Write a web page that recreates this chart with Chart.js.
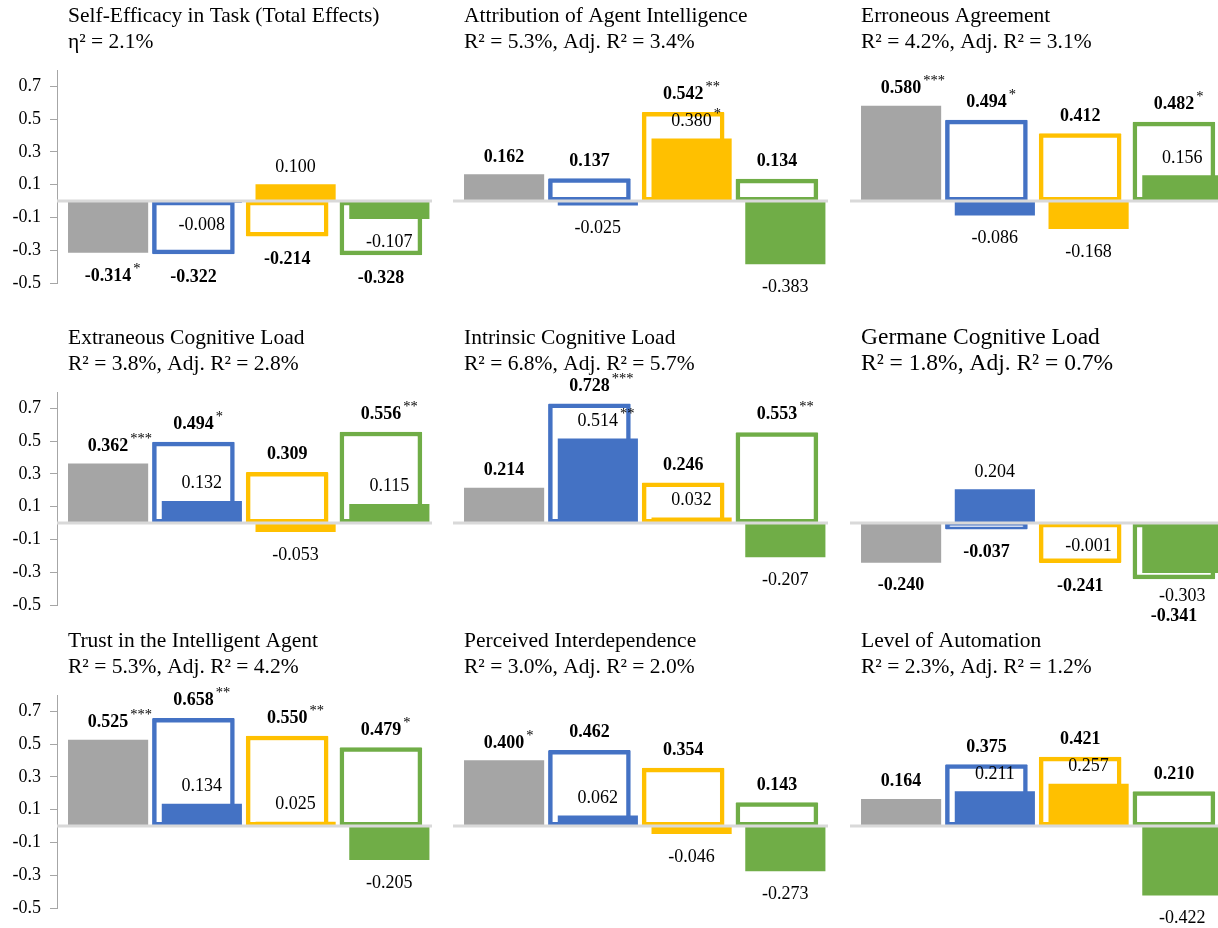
<!DOCTYPE html>
<html>
<head>
<meta charset="utf-8">
<title>Effects by condition</title>
<script src="https://cdn.jsdelivr.net/npm/chart.js@4.4.1/dist/chart.umd.min.js"></script>
<style>
  html, body { margin: 0; padding: 0; background: #fff; }
  #board { position: relative; width: 1218px; height: 928px; overflow: hidden; }
  #board canvas { position: absolute; }
</style>
</head>
<body>
<div id="board"></div>
<script>
// one panel per outcome, read left to right, top to bottom
const panelTitles = [
  'Self-Efficacy in Task (Total Effects)',
  'Attribution of Agent Intelligence',
  'Erroneous Agreement',
  'Extraneous Cognitive Load',
  'Intrinsic Cognitive Load',
  'Germane Cognitive Load',
  'Trust in the Intelligent Agent',
  'Perceived Interdependence',
  'Level of Automation'
];
const panelStats = [
  'η² = 2.1%',
  'R² = 5.3%, Adj. R² = 3.4%',
  'R² = 4.2%, Adj. R² = 3.1%',
  'R² = 3.8%, Adj. R² = 2.8%',
  'R² = 6.8%, Adj. R² = 5.7%',
  'R² = 1.8%, Adj. R² = 0.7%',
  'R² = 5.3%, Adj. R² = 4.2%',
  'R² = 3.0%, Adj. R² = 2.0%',
  'R² = 2.3%, Adj. R² = 1.2%'
];

const conditions = ['Reference', 'Condition 1', 'Condition 2', 'Condition 3'];

// total effects (outlined bars; the first condition is drawn filled)
const totalEffects = [
  [-0.314, -0.322, -0.214, -0.328],
  [0.162, 0.137, 0.542, 0.134],
  [0.580, 0.494, 0.412, 0.482],
  [0.362, 0.494, 0.309, 0.556],
  [0.214, 0.728, 0.246, 0.553],
  [-0.240, -0.037, -0.241, -0.341],
  [0.525, 0.658, 0.550, 0.479],
  [0.400, 0.462, 0.354, 0.143],
  [0.164, 0.375, 0.421, 0.210]
];
// direct effects (filled bars), none for the reference condition
const directEffects = [
  [null, -0.008, 0.100, -0.107],
  [null, -0.025, 0.380, -0.383],
  [null, -0.086, -0.168, 0.156],
  [null, 0.132, -0.053, 0.115],
  [null, 0.514, 0.032, -0.207],
  [null, 0.204, -0.001, -0.303],
  [null, 0.134, 0.025, -0.205],
  [null, 0.062, -0.046, -0.273],
  [null, 0.211, 0.257, -0.422]
];
const totalStars = [
  ['*', '', '', ''],
  ['', '', '**', ''],
  ['***', '*', '', '*'],
  ['***', '*', '', '**'],
  ['', '***', '', '**'],
  ['', '', '', ''],
  ['***', '**', '**', '*'],
  ['*', '', '', ''],
  ['', '', '', '']
];
const directStars = [
  ['', '', '', ''],
  ['', '', '*', ''],
  ['', '', '', ''],
  ['', '', '', ''],
  ['', '**', '', ''],
  ['', '', '', ''],
  ['', '', '', ''],
  ['', '', '', ''],
  ['', '', '', '']
];

const yTicks = [-0.5, -0.3, -0.1, 0.1, 0.3, 0.5, 0.7];
const yMin = -0.5;
const yMax = 0.8;

// look
const barColors = ['#a5a5a5', '#4472c4', '#ffc000', '#70ad47'];
const titleSizes = [21.5, 21.5, 21.5, 21.5, 21.5, 23.5, 21.5, 21.5, 21.5];
const SERIF = '"Liberation Serif", "Times New Roman", serif';

// grid placement: left edge of each plot area, top of each plot area
const colLeft = [57, 453, 850];
const rowTop = [70, 392, 695];
const PLOT_W = 375;
const PLOT_H = 213;
const AXIS_W = 57;
const PAD_TOP = 72;
const PAD_BOTTOM = 45;
const SHIFT = 0.045;   // outline / filled pair overlap

function drawValue(ctx, x, y, value, stars, bold) {
  const txt = value.toFixed(3);
  ctx.font = (bold ? 'bold ' : '') + '18px ' + SERIF;
  ctx.textAlign = 'center';
  ctx.textBaseline = 'alphabetic';
  ctx.fillText(txt, x, y);
  if (stars) {
    const w = ctx.measureText(txt).width;
    ctx.font = '14.5px ' + SERIF;
    ctx.textAlign = 'left';
    ctx.fillText(stars, x + w / 2 + 2, y - 8);
  }
}

const panelDecor = {
  id: 'panelDecor',
  afterDatasetsDraw(chart, args, opts) {
    const { ctx, chartArea, scales } = chart;
    const y0 = scales.y.getPixelForValue(0);
    ctx.save();
    ctx.strokeStyle = '#d9d9d9';
    ctx.lineWidth = 3;
    ctx.beginPath();
    ctx.moveTo(chartArea.left, y0);
    ctx.lineTo(chartArea.right, y0);
    ctx.stroke();

    ctx.fillStyle = '#000';
    const filledMeta = chart.getDatasetMeta(0);
    const outlineMeta = chart.getDatasetMeta(1);
    const p = opts.panel;
    const off = v => (v >= 0 ? -13 : 28);

    conditions.forEach((c, i) => {
      const fEl = filledMeta.data[i];
      if (i === 0) {
        const v = totalEffects[p][0];
        drawValue(ctx, fEl.x, fEl.y + off(v), v, totalStars[p][0], true);
        return;
      }
      const d = directEffects[p][i];
      const t = totalEffects[p][i];
      const oEl = outlineMeta.data[i - 1];
      const dY = fEl.y + off(d);
      let tY = oEl.y + off(t);
      // keep the bold label clear of the direct label on the same side
      if ((t < 0) === (d < 0) && Math.abs(t) > Math.abs(d) && Math.abs(tY - dY) < 20) {
        tY = t < 0 ? dY + 20 : dY - 20;
      }
      drawValue(ctx, oEl.x, tY, t, totalStars[p][i], true);
      drawValue(ctx, fEl.x, dY, d, directStars[p][i], false);
    });
    ctx.restore();
  },
  afterDraw(chart, args, opts) {
    const { ctx, chartArea } = chart;
    ctx.save();
    ctx.fillStyle = '#000';
    ctx.font = opts.size + 'px ' + SERIF;
    ctx.textAlign = 'left';
    ctx.textBaseline = 'alphabetic';
    ctx.fillText(opts.title, chartArea.left + 11, chartArea.top - 48);
    ctx.fillText(opts.stats, chartArea.left + 11, chartArea.top - 22.5);
    ctx.restore();
  }
};

const board = document.getElementById('board');

panelTitles.forEach((title, p) => {
  const col = p % 3;
  const row = Math.floor(p / 3);
  const withAxis = col === 0;
  const canvas = document.createElement('canvas');
  const w = PLOT_W + AXIS_W;
  const h = PAD_TOP + PLOT_H + PAD_BOTTOM;
  canvas.width = w;
  canvas.height = h;
  canvas.style.width = w + 'px';
  canvas.style.height = h + 'px';
  canvas.style.left = (colLeft[col] - AXIS_W) + 'px';
  canvas.style.top = (rowTop[row] - PAD_TOP) + 'px';
  board.appendChild(canvas);

  const filledData = conditions.map((c, i) => ({
    x: i + SHIFT,
    y: i === 0 ? totalEffects[p][0] : directEffects[p][i]
  }));
  const outlineData = conditions.slice(1).map((c, k) => ({
    x: k + 1 - SHIFT,
    y: totalEffects[p][k + 1]
  }));

  new Chart(canvas, {
    type: 'bar',
    data: {
      datasets: [
        {
          label: 'Direct',
          data: filledData,
          backgroundColor: barColors,
          borderWidth: 0,
          barThickness: 79.5,
          grouped: false
        },
        {
          label: 'Total',
          data: outlineData,
          backgroundColor: '#ffffff',
          borderColor: barColors.slice(1),
          borderWidth: 4.5,
          borderSkipped: false,
          borderRadius: 1,
          barThickness: 82,
          grouped: false
        }
      ]
    },
    options: {
      responsive: false,
      animation: false,
      devicePixelRatio: 1,
      layout: { padding: { top: PAD_TOP, bottom: PAD_BOTTOM, left: 0, right: 0 } },
      plugins: {
        legend: { display: false },
        tooltip: { enabled: false },
        panelDecor: { panel: p, title: title, stats: panelStats[p], size: titleSizes[p] }
      },
      scales: {
        x: { type: 'linear', min: -0.5, max: 3.5, offset: false, display: false },
        y: {
          min: yMin,
          max: yMax,
          afterBuildTicks: s => { s.ticks = yTicks.map(v => ({ value: v })); },
          afterFit: s => { s.width = AXIS_W; },
          ticks: {
            display: withAxis,
            color: '#000',
            padding: 9,
            font: { family: 'Liberation Serif', size: 18 },
            callback: v => v.toFixed(1)
          },
          grid: {
            display: withAxis,
            drawOnChartArea: false,
            drawTicks: true,
            tickLength: 7,
            color: '#a6a6a6'
          },
          border: { display: withAxis, color: '#a6a6a6', width: 1 }
        }
      }
    },
    plugins: [panelDecor]
  });
});
</script>
</body>
</html>
